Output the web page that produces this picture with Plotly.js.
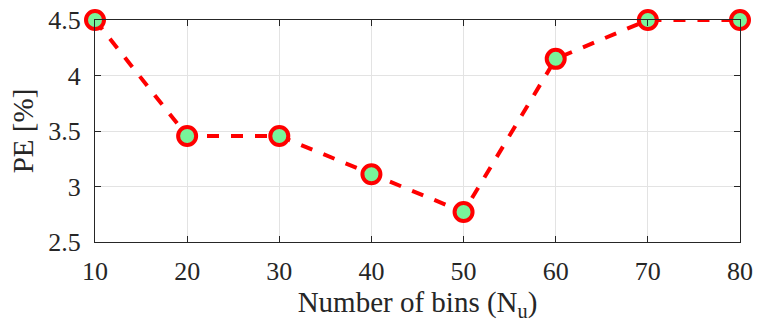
<!DOCTYPE html>
<html><head><meta charset="utf-8">
<script src="https://cdn.plot.ly/plotly-3.0.1.min.js"></script>
<style>body{margin:0;background:#fff}#c{width:757px;height:328px}</style>
</head><body><div id="c"></div>
<script>
const bins = [10, 20, 30, 40, 50, 60, 70, 80];
const pe = [4.5, 3.455, 3.455, 3.11, 2.77, 4.15, 4.5, 4.5];
const xTicks = [10, 20, 30, 40, 50, 60, 70, 80];
const yTicks = [2.5, 3, 3.5, 4, 4.5];
const yTickText = ['2.5', '3', '3.5', '4', '4.5'];

const FAM = 'Liberation Serif, Times New Roman, serif';
const mk = s => ({family: FAM, size: s, color: '#262626'});
Plotly.newPlot('c', [{
  x: bins, y: pe, type: 'scatter', mode: 'lines+markers', cliponaxis: false,
  line: {color: '#ff0000', width: 4, dash: 'dash'},
  marker: {size: 18, color: '#78f49a', line: {color: '#ff0000', width: 4}}
}], {
  width: 757, height: 328,
  margin: {l: 95, r: 17, t: 20, b: 86},
  paper_bgcolor: '#fff', plot_bgcolor: '#fff',
  font: mk(26), showlegend: false,
  xaxis: {range: [10, 80], tickvals: xTicks, ticks: 'inside', ticklen: 6, tickcolor: '#262626',
    showline: true, linecolor: '#262626', linewidth: 1, mirror: 'ticks', automargin: false,
    showgrid: true, gridcolor: '#e3e3e3', zeroline: false, tickfont: mk(26), ticklabelstandoff: 6,
    title: {text: 'Number of bins (N<sub>u</sub>)', font: mk(29), standoff: 4}},
  yaxis: {range: [2.5, 4.5], tickvals: yTicks, ticktext: yTickText, ticks: 'inside', ticklen: 6, tickcolor: '#262626',
    showline: true, linecolor: '#262626', linewidth: 1, mirror: 'ticks', automargin: false,
    showgrid: true, gridcolor: '#e3e3e3', zeroline: false, tickfont: mk(26), ticklabelstandoff: 8,
    title: {text: 'PE [%]', font: mk(29), standoff: 6}}
}, {displayModeBar: false, staticPlot: true});
</script></body></html>
